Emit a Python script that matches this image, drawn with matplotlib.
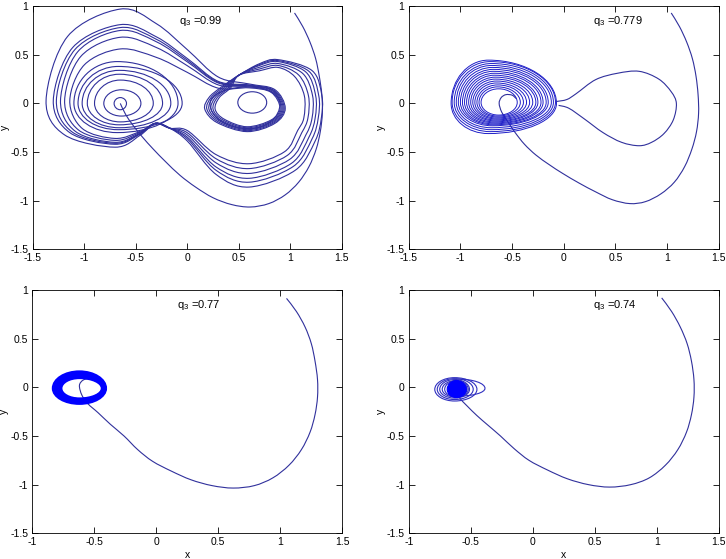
import numpy as np
import matplotlib
matplotlib.use('Agg')
import matplotlib.pyplot as plt
from matplotlib.path import Path
from matplotlib.patches import PathPatch

plt.rcParams['font.family'] = ['Liberation Sans', 'DejaVu Sans']
plt.rcParams['mathtext.default'] = 'regular'

# ---- data (phase portraits, x vs y) ----
q_labels = ['0.99', '0.779', '0.77', '0.74']

# opening arc of each run: top right, down the right side, round the bottom, up the diagonal
start_x_099 = [1.04, 1.12, 1.19, 1.245, 1.28, 1.305, 1.31, 1.29, 1.25, 1.18, 1.08, 0.95, 0.79, 0.61, 0.43, 0.25, 0.08, -0.07, -0.21, -0.33, -0.44, -0.53, -0.60, -0.65]
start_y_099 = [0.93, 0.79, 0.63, 0.46, 0.28, 0.09, -0.10, -0.29, -0.47, -0.65, -0.81, -0.94, -1.03, -1.065, -1.04, -0.97, -0.86, -0.74, -0.60, -0.47, -0.34, -0.22, -0.11, 0.00]

start_x_0779 = [1.04, 1.12, 1.19, 1.245, 1.28, 1.30, 1.305, 1.285, 1.24, 1.17, 1.07, 0.94, 0.79, 0.64, 0.47, 0.31, 0.15, -0.01, -0.14, -0.27, -0.38, -0.47, -0.54, -0.60, -0.625, -0.605, -0.56, -0.50, -0.46]
start_y_0779 = [0.93, 0.79, 0.63, 0.46, 0.28, 0.09, -0.10, -0.29, -0.47, -0.65, -0.81, -0.93, -1.01, -1.03, -0.99, -0.91, -0.82, -0.72, -0.63, -0.53, -0.42, -0.30, -0.19, -0.09, 0.00, 0.06, 0.09, 0.085, 0.05]

start_x_077 = [1.05, 1.13, 1.20, 1.25, 1.28, 1.30, 1.30, 1.28, 1.24, 1.17, 1.07, 0.94, 0.79, 0.62, 0.45, 0.28, 0.12, -0.03, -0.15, -0.26, -0.37, -0.47, -0.55, -0.60, -0.62, -0.59, -0.535, -0.49]
start_y_077 = [0.915, 0.78, 0.62, 0.45, 0.27, 0.08, -0.10, -0.28, -0.46, -0.64, -0.80, -0.93, -1.01, -1.035, -1.01, -0.95, -0.86, -0.76, -0.64, -0.50, -0.38, -0.26, -0.17, -0.08, 0.02, 0.075, 0.092, 0.085]

start_x_074 = [1.04, 1.12, 1.19, 1.245, 1.28, 1.30, 1.30, 1.28, 1.24, 1.17, 1.07, 0.94, 0.79, 0.62, 0.45, 0.28, 0.12, -0.03, -0.15, -0.26, -0.36, -0.45, -0.53, -0.587, -0.61]
start_y_074 = [0.92, 0.78, 0.62, 0.45, 0.27, 0.08, -0.10, -0.28, -0.46, -0.64, -0.80, -0.93, -1.00, -1.025, -1.00, -0.94, -0.85, -0.75, -0.63, -0.50, -0.39, -0.29, -0.19, -0.113, -0.06]

# nested loops: centre x, centre y, left x, right x, top y, bottom y
loops_099_left = [
    (-0.65, 0.0, -0.71, -0.59, 0.06, -0.065),
    (-0.64, 0.0, -0.81, -0.45, 0.14, -0.13),
    (-0.65, 0.0, -0.90, -0.33, 0.24, -0.19),
    (-0.66, 0.0, -0.97, -0.24, 0.30, -0.22),
    (-0.66, 0.0, -1.02, -0.16, 0.34, -0.25),
    (-0.67, 0.0, -1.06, -0.05, 0.38, -0.27),
    (-0.68, 0.0, -1.10, -0.09, 0.43, -0.30),
]
loops_099_right = [
    (0.63, 0.01, 0.49, 0.77, 0.12, -0.10),
    (0.60, 0.0, 0.22, 0.90, 0.17, -0.26),
]
# figure-eight loops: left lobe (x, top, bottom), inner right turn (left x, right x, top, bottom),
# outer right lobe (x, top, bottom)
eights_099_xl = [-1.37, -1.30, -1.27, -1.23, -1.19, -1.14]
eights_099_tl = [0.97, 0.81, 0.78, 0.75, 0.68, 0.56]
eights_099_bl = [-0.45, -0.42, -0.41, -0.40, -0.38, -0.36]
eights_099_ril = [0.17, 0.19, 0.21, 0.23, 0.25, 0.27]
eights_099_rir = [0.95, 0.94, 0.93, 0.92, 0.91, 0.90]
eights_099_rit = [0.20, 0.19, 0.185, 0.18, 0.17, 0.16]
eights_099_rib = [-0.29, -0.28, -0.27, -0.26, -0.25, -0.24]
eights_099_xr = [1.31, 1.28, 1.25, 1.22, 1.18, 1.14]
eights_099_tr = [0.45, 0.44, 0.43, 0.41, 0.39, 0.37]
eights_099_br = [-0.86, -0.81, -0.77, -0.72, -0.67, -0.62]

loops_0779 = [
    (-0.63, 0.01, -0.80, -0.45, 0.15, -0.12),
    (-0.64, 0.01, -0.82, -0.42, 0.17, -0.13),
    (-0.64, 0.01, -0.84, -0.39, 0.19, -0.14),
    (-0.65, 0.01, -0.86, -0.36, 0.21, -0.15),
    (-0.65, 0.01, -0.88, -0.33, 0.23, -0.16),
    (-0.66, 0.01, -0.90, -0.30, 0.25, -0.17),
    (-0.66, 0.01, -0.92, -0.27, 0.27, -0.18),
    (-0.67, 0.01, -0.94, -0.25, 0.29, -0.19),
    (-0.67, 0.01, -0.96, -0.22, 0.31, -0.20),
    (-0.68, 0.01, -0.98, -0.20, 0.33, -0.21),
    (-0.68, 0.01, -1.00, -0.17, 0.35, -0.22),
    (-0.69, 0.01, -1.02, -0.15, 0.37, -0.23),
    (-0.70, 0.01, -1.04, -0.12, 0.39, -0.25),
    (-0.70, 0.01, -1.06, -0.10, 0.41, -0.27),
    (-0.71, 0.01, -1.08, -0.08, 0.43, -0.29),
    (-0.73, 0.0, -1.09, -0.07, 0.445, -0.31),
]
lobe_x_0779 = [-0.07, 0.03, 0.12, 0.31, 0.52, 0.73, 0.92, 1.04, 1.09, 1.06, 0.97, 0.85, 0.73, 0.56, 0.38, 0.20, 0.05, -0.05]
lobe_y_0779 = [0.02, 0.04, 0.10, 0.245, 0.31, 0.33, 0.25, 0.12, 0.00, -0.17, -0.31, -0.40, -0.435, -0.40, -0.30, -0.16, -0.05, -0.02]

loops_077 = [
    (-0.62, -0.01, -0.835, -0.405, 0.165, -0.17),
    (-0.62, -0.01, -0.825, -0.41, 0.155, -0.16),
    (-0.62, -0.01, -0.815, -0.415, 0.145, -0.15),
    (-0.62, -0.01, -0.805, -0.42, 0.135, -0.143),
    (-0.62, -0.01, -0.795, -0.425, 0.125, -0.135),
    (-0.62, -0.01, -0.785, -0.43, 0.115, -0.128),
    (-0.62, -0.01, -0.775, -0.435, 0.105, -0.12),
    (-0.62, -0.01, -0.765, -0.44, 0.095, -0.113),
]

loops_074 = [
    (-0.60, -0.01, -0.67, -0.385, 0.085, -0.09),
    (-0.63, -0.02, -0.79, -0.45, 0.10, -0.14),
    (-0.63, -0.02, -0.77, -0.48, 0.09, -0.125),
    (-0.63, -0.02, -0.75, -0.51, 0.08, -0.11),
    (-0.62, -0.02, -0.73, -0.52, 0.07, -0.10),
    (-0.62, -0.02, -0.71, -0.53, 0.065, -0.095),
]
blob_074 = (-0.615, -0.02, -0.69, -0.535, 0.07, -0.105)

text_pos = [(-0.08, 0.85), (0.28, 0.85), (0.165, 0.85), (0.485, 0.85)]

line_c = '#30309c'
dense_c = '#0000ff'
K = 0.5523


def egg_path(cx, cy, xl, xr, yt, yb):
    # four quarter ellipses meeting at the extremes
    rr, rl, rt, rb = xr - cx, cx - xl, yt - cy, cy - yb
    v = [(xr, cy),
         (xr, cy + K * rt), (cx + K * rr, yt), (cx, yt),
         (cx - K * rl, yt), (xl, cy + K * rt), (xl, cy),
         (xl, cy - K * rb), (cx - K * rl, yb), (cx, yb),
         (cx + K * rr, yb), (xr, cy - K * rb), (xr, cy)]
    c = [Path.MOVETO] + [Path.CURVE4] * 12
    return Path(v, c)


def smooth_path(xs, ys, closed=False):
    # Catmull-Rom through the read points, handed to matplotlib as cubic Beziers
    pts = np.column_stack([xs, ys]).astype(float)
    if closed:
        ext = np.vstack([pts[-1], pts, pts[0], pts[1]])
    else:
        ext = np.vstack([pts[0], pts, pts[-1]])
    verts = [ext[1]]
    codes = [Path.MOVETO]
    for i in range(1, len(ext) - 2):
        p0, p1, p2, p3 = ext[i - 1], ext[i], ext[i + 1], ext[i + 2]
        verts += [p1 + (p2 - p0) / 6, p2 - (p3 - p1) / 6, p2]
        codes += [Path.CURVE4] * 3
    return Path(verts, codes)


def eight_points(xl, tl, bl, ril, rir, rit, rib, xr, tr, br):
    rl = -0.65 - xl
    ri = rir - 0.60
    pts = [
        (xl, 0.03), (xl + 0.29 * rl, 0.71 * tl), (-0.65, tl), (-0.30, 0.845 * tl),
        (0.0, 0.57 * tl), (0.30, 0.28 * tl),
        (0.60, rit), (0.60 + 0.71 * ri, 0.71 * rit), (rir, -0.05), (0.60 + 0.71 * ri, 0.71 * rib),
        (0.58, rib), (0.58 - 0.71 * (0.58 - ril), 0.68 * rib), (ril, -0.06), (ril + 0.04, 0.06),
        (ril + 0.15, 0.16), (0.50, 0.29), (0.70, 0.39 * tr / 0.43),
        (0.88, tr), (xr - 0.10, 0.75 * tr), (xr - 0.005, 0.08), (xr - 0.01, -0.15),
        (xr - 0.07, 0.45 * br), (0.65 + 0.6 * (xr - 0.65), 0.8 * br), (0.60, br),
        (0.28, 0.85 * br), (0.0, 0.45 * br),
        (-0.17, -0.255), (-0.31, -0.205), (-0.46, -0.23 + 0.45 * (bl + 0.23)), (-0.70, bl),
        (xl + 0.25 * rl, 0.72 * bl),
    ]
    return [p[0] for p in pts], [p[1] for p in pts]


def add(ax, path, color=line_c, lw=0.8):
    ax.add_patch(PathPatch(path, facecolor='none', edgecolor=color, lw=lw))


fig, axs = plt.subplots(2, 2, figsize=(7.26, 5.59), dpi=100)
pos = [[0.045, 0.554, 0.426, 0.435], [0.563, 0.554, 0.427, 0.435],
       [0.0445, 0.046, 0.427, 0.435], [0.563, 0.046, 0.427, 0.435]]
for a, p in zip(axs.flat, pos):
    a.set_position(p)

# q3 = 0.99
ax = axs[0, 0]
add(ax, smooth_path(start_x_099, start_y_099))
for r in loops_099_left + loops_099_right:
    add(ax, egg_path(*r))
for row in zip(eights_099_xl, eights_099_tl, eights_099_bl, eights_099_ril, eights_099_rir,
               eights_099_rit, eights_099_rib, eights_099_xr, eights_099_tr, eights_099_br):
    xs, ys = eight_points(*row)
    add(ax, smooth_path(xs, ys, closed=True))

# q3 = 0.779
ax = axs[0, 1]
add(ax, smooth_path(start_x_0779, start_y_0779))
for r in loops_0779:
    add(ax, egg_path(*r), color='#2020c8', lw=0.7)
add(ax, smooth_path(lobe_x_0779, lobe_y_0779))

# q3 = 0.77
ax = axs[1, 0]
add(ax, smooth_path(start_x_077, start_y_077))
for r in loops_077:
    add(ax, egg_path(*r), color=dense_c, lw=1.4)

# q3 = 0.74
ax = axs[1, 1]
add(ax, smooth_path(start_x_074, start_y_074))
for r in loops_074:
    add(ax, egg_path(*r), color='#3030c0', lw=0.8)
ax.add_patch(PathPatch(egg_path(*blob_074), facecolor=dense_c, edgecolor=dense_c, lw=0.8))

for i, ax in enumerate(axs.flat):
    if i < 2:
        ax.set_xlim(-1.5, 1.5)
        ax.set_xticks([-1.5, -1, -0.5, 0, 0.5, 1, 1.5])
    else:
        ax.set_xlim(-1, 1.5)
        ax.set_xticks([-1, -0.5, 0, 0.5, 1, 1.5])
        ax.set_xlabel('x', fontsize=7.5, labelpad=2)
    ax.set_ylim(-1.5, 1)
    ax.set_yticks([-1.5, -1, -0.5, 0, 0.5, 1])
    ax.set_xticklabels([('%g' % t) for t in ax.get_xticks()])
    ax.set_yticklabels([('%g' % t) for t in ax.get_yticks()])
    ax.set_ylabel('y', fontsize=7.5)
    ax.yaxis.set_label_coords(-0.075, 0.5)
    ax.tick_params(direction='in', top=True, right=True, length=4, width=0.6,
                   labelsize=7.5, pad=3)
    for s in ax.spines.values():
        s.set_linewidth(0.6)
    tx, ty = text_pos[i]
    ax.text(tx, ty, '$q_3$ =' + q_labels[i], fontsize=8, va='center', ha='left')

fig.savefig('out.png', dpi=100)
